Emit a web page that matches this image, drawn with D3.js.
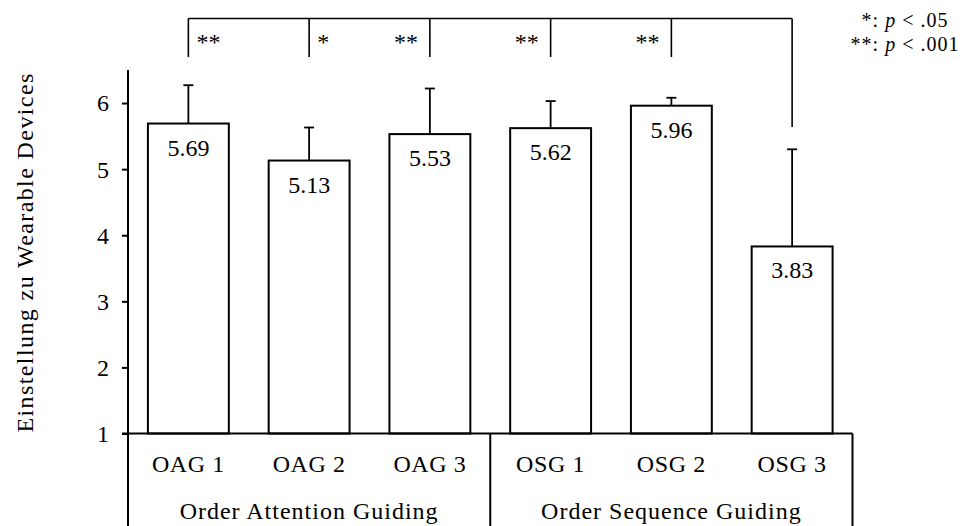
<!DOCTYPE html>
<html>
<head>
<meta charset="utf-8">
<script src="https://cdn.jsdelivr.net/npm/d3@7"></script>
<style>
  html, body { margin: 0; padding: 0; background: #fff; }
  svg { display: block; }
</style>
</head>
<body>
<svg id="chart" width="968" height="526"></svg>
<script>
// Conditions, grouped by guiding order
const categories = ["OAG 1", "OAG 2", "OAG 3", "OSG 1", "OSG 2", "OSG 3"];
const groups = ["Order Attention Guiding", "Order Sequence Guiding"];
// Mean attitude and standard deviation per condition
const means = [5.69, 5.13, 5.53, 5.62, 5.96, 3.83];
const sds = [0.58, 0.50, 0.69, 0.41, 0.12, 1.47];
const yTicks = [1, 2, 3, 4, 5, 6];
// Pairwise comparisons against OSG 3
const bracketRef = "OSG 3";
const comparisons = ["OAG 1", "OAG 2", "OAG 3", "OSG 1", "OSG 2"];
const compStars = ["**", "*", "**", "**", "**"];
const compSide = ["right", "right", "left", "left", "left"];
const legendLines = [["*:", "p", ".05"], ["**:", "p", ".001"]];
const yTitle = "Einstellung zu Wearable Devices";

const FONT = "'Liberation Serif', 'Times New Roman', serif";
const FS = 24;

const svg = d3.select("#chart");

const styleText = (sel, spacing = 0, size = FS) => sel
  .style("font-family", FONT)
  .style("font-size", size + "px")
  .style("letter-spacing", spacing + "px")
  .attr("fill", "#000");

const x = d3.scaleBand()
  .domain(categories)
  .range([128, 852.5])
  .paddingInner(0.33)
  .paddingOuter(0.165);

const y = d3.scaleLinear()
  .domain([1, 6.5])
  .range([433.5, 70]);

const cx = c => x(c) + x.bandwidth() / 2;

// Y axis
const yAxis = svg.append("g")
  .attr("transform", "translate(128,0)")
  .call(d3.axisLeft(y).tickValues(yTicks).tickSize(6).tickPadding(13).tickFormat(d3.format("d")));
yAxis.select(".domain").attr("stroke", "#000").attr("stroke-width", 2).attr("d", `M0,${y(1)}V${y(6.5)}`);
yAxis.selectAll(".tick line").attr("stroke", "#000").attr("stroke-width", 2);
yAxis.selectAll(".tick text").call(styleText, 0).attr("dy", "0.33em");

// Y title
svg.append("text")
  .attr("transform", `translate(33,${y(3.74)}) rotate(-90)`)
  .attr("text-anchor", "middle")
  .call(styleText, 1.4)
  .text(yTitle);

// Bars
svg.append("g").selectAll("rect")
  .data(categories)
  .join("rect")
  .attr("x", d => x(d))
  .attr("y", (d, i) => y(means[i]))
  .attr("width", x.bandwidth())
  .attr("height", (d, i) => y(1) - y(means[i]))
  .attr("fill", "#fff")
  .attr("stroke", "#000")
  .attr("stroke-width", 2);

// Error bars (upper whisker only)
const err = svg.append("g").attr("stroke", "#000").attr("stroke-width", 1.8);
categories.forEach((c, i) => {
  const top = y(means[i] + sds[i]);
  err.append("line").attr("x1", cx(c)).attr("x2", cx(c)).attr("y1", y(means[i])).attr("y2", top);
  err.append("line").attr("x1", cx(c) - 5).attr("x2", cx(c) + 5).attr("y1", top).attr("y2", top);
});

// Value labels inside bars
svg.append("g").selectAll("text")
  .data(categories)
  .join("text")
  .attr("x", d => cx(d))
  .attr("y", (d, i) => y(means[i]) + 32)
  .attr("text-anchor", "middle")
  .call(styleText, 0)
  .text((d, i) => means[i].toFixed(2));

// Category table below the axis
const table = svg.append("g").attr("stroke", "#000").attr("stroke-width", 2);
table.append("line").attr("x1", 122).attr("x2", 852.5).attr("y1", y(1)).attr("y2", y(1));
const groupEdges = [128, 128 + 3 * x.step(), 852.5];
groupEdges.forEach(gx => {
  table.append("line").attr("x1", gx).attr("x2", gx).attr("y1", y(1)).attr("y2", 526);
});

svg.append("g").selectAll("text")
  .data(categories)
  .join("text")
  .attr("x", d => cx(d))
  .attr("y", 471.5)
  .attr("text-anchor", "middle")
  .call(styleText, 0.6)
  .text(d => d);

svg.append("g").selectAll("text")
  .data(groups)
  .join("text")
  .attr("x", (g, i) => (groupEdges[i] + groupEdges[i + 1]) / 2)
  .attr("y", 519)
  .attr("text-anchor", "middle")
  .call(styleText, 1)
  .text(g => g);

// Significance bracket
const br = svg.append("g").attr("stroke", "#000").attr("stroke-width", 1.6).attr("fill", "none");
const brTop = 18.5;
br.append("line").attr("x1", cx(comparisons[0])).attr("x2", cx(bracketRef)).attr("y1", brTop).attr("y2", brTop);
comparisons.forEach(c => {
  br.append("line").attr("x1", cx(c)).attr("x2", cx(c)).attr("y1", brTop).attr("y2", 57);
});
br.append("line").attr("x1", cx(bracketRef)).attr("x2", cx(bracketRef)).attr("y1", brTop).attr("y2", 127);

svg.append("g").selectAll("text")
  .data(comparisons)
  .join("text")
  .attr("x", (c, i) => compSide[i] === "right" ? cx(c) + 8 : cx(c) - 12)
  .attr("y", 50)
  .attr("text-anchor", (c, i) => compSide[i] === "right" ? "start" : "end")
  .call(styleText, 0)
  .text((c, i) => compStars[i]);

// Significance legend
const leg = svg.append("g");
legendLines.forEach((l, i) => {
  const t = leg.append("text")
    .attr("x", 905)
    .attr("y", 27 + i * 23.5)
    .attr("text-anchor", "middle")
    .call(styleText, 1, 20);
  t.append("tspan").text(l[0] + " ");
  t.append("tspan").style("font-style", "italic").text(l[1]);
  t.append("tspan").text(" <  " + l[2]);
});
</script>
</body>
</html>
